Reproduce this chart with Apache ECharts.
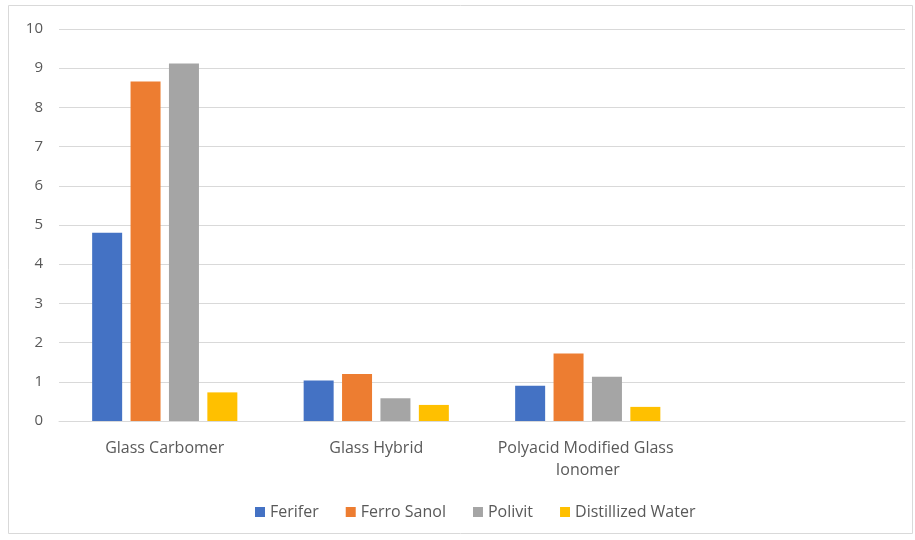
<!DOCTYPE html>
<html><head><meta charset="utf-8">
<script src="https://cdn.jsdelivr.net/npm/echarts@6/dist/echarts.min.js"></script>
<style>html,body{margin:0;padding:0;background:#fff}#c{width:915px;height:540px}</style>
</head><body><div id="c"></div>
<script>
const categories = ['Glass Carbomer', 'Glass Hybrid', 'Polyacid Modified Glass Ionomer', ''];
const ferifer = [4.80, 1.03, 0.90, null];
const ferroSanol = [8.66, 1.20, 1.72, null];
const polivit = [9.12, 0.58, 1.13, null];
const distilledWater = [0.73, 0.41, 0.36, null];
const yTicks = [0, 1, 2, 3, 4, 5, 6, 7, 8, 9, 10];

const chart = echarts.init(document.getElementById('c'), null, {renderer: 'canvas'});
const font = 'Open Sans';
const mk = (name, data, color) => ({
  name, type: 'bar', data, barWidth: 30, barGap: '28%',
  itemStyle: {color}
});
chart.setOption({
  animation: false,
  textStyle: {fontFamily: font},
  graphic: [{type: 'rect', shape: {x: 8.5, y: 5.5, width: 904, height: 528},
    style: {fill: 'none', stroke: '#d9d9d9', lineWidth: 1}, silent: true}],
  grid: {left: 59, right: 10, top: 29, bottom: 119},
  legend: {
    bottom: 15, left: 250, itemWidth: 10, itemHeight: 10, itemGap: 27,
    icon: 'rect',
    textStyle: {color: '#595959', fontSize: 16, fontFamily: font},
    data: ['Ferifer', 'Ferro Sanol', 'Polivit', 'Distillized Water']
  },
  xAxis: {
    type: 'category', data: categories,
    axisLine: {lineStyle: {color: '#d9d9d9'}},
    axisTick: {show: false},
    axisLabel: {color: '#595959', fontSize: 16, fontFamily: font, margin: 16,
      lineHeight: 22, width: 200, overflow: 'break', interval: 0}
  },
  yAxis: {
    type: 'value', min: 0, max: 10, interval: 1,
    axisLine: {show: false}, axisTick: {show: false},
    splitLine: {lineStyle: {color: '#d9d9d9'}},
    axisLabel: {color: '#595959', fontSize: 15, fontFamily: font, margin: 16,
      formatter: v => yTicks.includes(v) ? String(v) : ''}
  },
  series: [
    mk('Ferifer', ferifer, '#4472c4'),
    mk('Ferro Sanol', ferroSanol, '#ed7d31'),
    mk('Polivit', polivit, '#a5a5a5'),
    mk('Distillized Water', distilledWater, '#ffc000')
  ]
});
</script></body></html>
